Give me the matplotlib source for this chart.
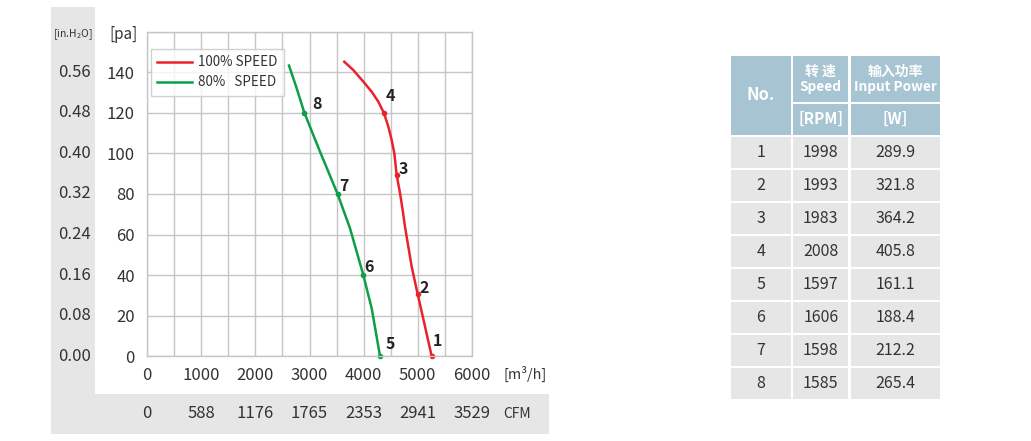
import numpy as np
import matplotlib
matplotlib.use('Agg')
import matplotlib.pyplot as plt
from matplotlib.patches import Rectangle
from matplotlib import transforms

plt.rcParams['font.family'] = ['Noto Sans CJK SC', 'DejaVu Sans']

# curve points (flow m3/h, pressure pa)
red_flow = [3643, 3810, 3995, 4150, 4273, 4378, 4458, 4520, 4569, 4612, 4674, 4723,
            4766, 4890, 5001, 5123, 5260]
red_pa = [145.2, 141.1, 135.4, 130.4, 125.5, 119.8, 113.2, 106.6, 100.1, 89.4, 80.4, 72.1,
          63.9, 44.2, 30.6, 16.3, 0]
green_flow = [2621, 2763, 2904, 3194, 3521, 3749, 3995, 4150, 4305]
green_pa = [143.3, 132.1, 120.1, 100.9, 79.9, 63.1, 40.1, 23.7, 0]

# numbered operating points
pt_no = [1, 2, 3, 4, 5, 6, 7, 8]
pt_flow = [5260, 5001, 4612, 4378, 4305, 3995, 3521, 2904]
pt_pa = [0, 30.6, 89.4, 119.8, 0, 40.1, 79.9, 120.1]
pt_off = [(6, 15), (7, 6), (7, 6), (6, 17), (10, 12), (6, 8), (6, 8), (13, 9)]

x_ticks = [0, 1000, 2000, 3000, 4000, 5000, 6000]
cfm_labels = ['0', '588', '1176', '1765', '2353', '2941', '3529']
pa_ticks = [0, 20, 40, 60, 80, 100, 120, 140]
inh2o_labels = ['0.00', '0.08', '0.16', '0.24', '0.32', '0.40', '0.48', '0.56']

# table
tab_no = ['1', '2', '3', '4', '5', '6', '7', '8']
tab_rpm = ['1998', '1993', '1983', '2008', '1597', '1606', '1598', '1585']
tab_w = ['289.9', '321.8', '364.2', '405.8', '161.1', '188.4', '212.2', '265.4']

RED = '#e8232b'
GREEN = '#0d9f48'
TXT = '#333333'
GRID = '#c6c6c6'
HEAD = '#a6c4d2'
CELL = '#e6e6e6'
PANEL = '#e6e6e6'
FS = 12

W, H = 1031, 441
fig = plt.figure(figsize=(W / 100, H / 100), dpi=100)

# overlay in pixel coordinates for panels, extra labels and the table
ov = fig.add_axes([0, 0, 1, 1])
ov.set_xlim(0, W)
ov.set_ylim(H, 0)
ov.axis('off')
ov.set_zorder(0)

ov.add_patch(Rectangle((51, 7), 44, 427, color=PANEL, lw=0))
ov.add_patch(Rectangle((95, 394), 454, 40, color=PANEL, lw=0))

# main chart
x0, x1, yb, yt = 147.3, 471.7, 356.3, 31.7
ax = fig.add_axes([x0 / W, (H - yb) / H, (x1 - x0) / W, (yb - yt) / H])
ax.set_zorder(1)
ax.set_xlim(0, 6000)
ax.set_ylim(0, 160)
ax.set_xticks(np.arange(0, 6001, 500))
ax.set_yticks(np.arange(0, 161, 20))
ax.grid(True, color=GRID, lw=1)
ax.set_axisbelow(True)
for s in ax.spines.values():
    s.set_color(GRID)
    s.set_linewidth(1)
ax.tick_params(length=0, labelsize=FS, colors=TXT)
ax.tick_params(axis='x', pad=8)
ax.tick_params(axis='y', pad=9)
ax.set_xticklabels([str(v) if v in x_ticks else '' for v in np.arange(0, 6001, 500)])
ax.set_yticklabels([str(v) if v in pa_ticks else '' for v in np.arange(0, 161, 20)])

ax.plot(red_flow, red_pa, color=RED, lw=1.8, label='100% SPEED', solid_joinstyle='round')
ax.plot(green_flow, green_pa, color=GREEN, lw=1.8, label='80%   SPEED', solid_joinstyle='round')
for n, fx, fy, off in zip(pt_no, pt_flow, pt_pa, pt_off):
    c = RED if n <= 4 else GREEN
    ax.plot(fx, fy, 'o', color=c, ms=3, clip_on=False)
    ax.annotate(str(n), (fx, fy), xytext=off, textcoords='offset pixels',
                ha='center', va='center', fontsize=11.5, fontweight='bold', color='#222222')

leg = ax.legend(loc='upper left', bbox_to_anchor=(0.01, 0.948), fontsize=9.7,
                frameon=True, fancybox=False, handlelength=2.6, handletextpad=0.4,
                borderpad=0.5, labelspacing=0.45, borderaxespad=0)
leg.get_frame().set_edgecolor(GRID)
leg.get_frame().set_linewidth(1)
for t in leg.get_texts():
    t.set_color(TXT)

# secondary labels
tr_y = transforms.blended_transform_factory(ov.transData, ax.transData)
for v, lab in zip(pa_ticks, inh2o_labels):
    ax.text(91, v, lab, transform=tr_y, ha='right', va='center', fontsize=FS, color=TXT)
tr_x = transforms.blended_transform_factory(ax.transData, ov.transData)
for v, lab in zip(x_ticks, cfm_labels):
    ax.text(v, 414, lab, transform=tr_x, ha='center', va='center', fontsize=FS,
            color=TXT, clip_on=False)
ov.text(516.7, 414, 'CFM', ha='center', va='center', fontsize=10, color=TXT)
ov.text(525, 374, '[m³/h]', ha='center', va='center', fontsize=10.3, color=TXT)
ov.text(123.3, 34.5, '[pa]', ha='center', va='center', fontsize=11, color=TXT)
ov.text(73.3, 34.5, r'[in.H$_\mathregular{2}$O]', ha='center', va='center', fontsize=7.5, color=TXT)

# table
cols = [(731, 791), (793.3, 848.3), (850.7, 940)]
ov.add_patch(Rectangle((cols[0][0], 56), cols[0][1] - cols[0][0], 79, color=HEAD, lw=0))
for (a, b) in cols[1:]:
    ov.add_patch(Rectangle((a, 56), b - a, 45.7, color=HEAD, lw=0))
    ov.add_patch(Rectangle((a, 104), b - a, 31, color=HEAD, lw=0))
hk = dict(ha='center', va='center', color='white', fontweight='bold')
ov.text(761, 95, 'No.', fontsize=12, **hk)
ov.text(820.8, 71.7, '转 速', fontsize=10, **hk)
ov.text(820.8, 86.7, 'Speed', fontsize=9.8, **hk)
ov.text(895.3, 71.7, '输入功率', fontsize=10, **hk)
ov.text(895.3, 86.7, 'Input Power', fontsize=9.8, **hk)
ov.text(820.8, 119.3, '[RPM]', fontsize=11, **hk)
ov.text(895.3, 119.3, '[W]', fontsize=11, **hk)

for i, row in enumerate(zip(tab_no, tab_rpm, tab_w)):
    top = 136.7 + 33 * i
    for (a, b), val in zip(cols, row):
        ov.add_patch(Rectangle((a, top), b - a, 31.3, color=CELL, lw=0))
        ov.text((a + b) / 2, top + 16, val, ha='center', va='center', fontsize=11.5, color=TXT)

fig.savefig('out.png', dpi=100)
